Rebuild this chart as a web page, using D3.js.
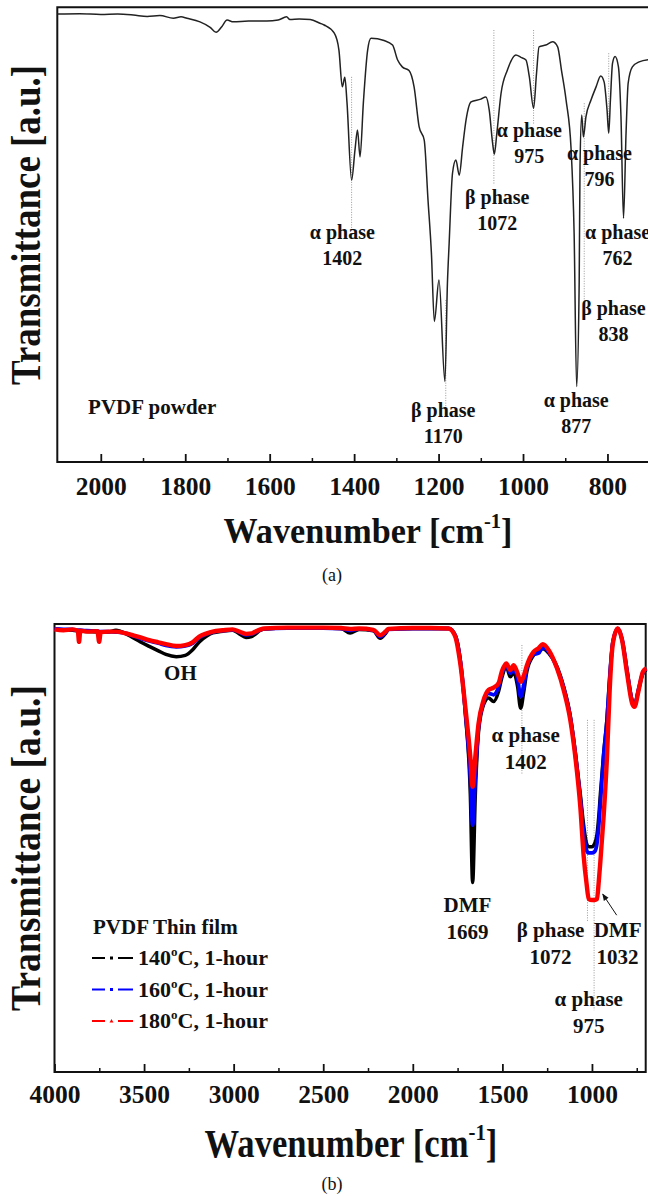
<!DOCTYPE html>
<html><head><meta charset="utf-8">
<script src="https://cdn.jsdelivr.net/npm/d3@7"></script>
<style>
body{margin:0;background:#fff;}
svg text{font-family:"Liberation Serif","Times New Roman",serif !important;fill:#111;}
</style>
</head><body>
<svg id="chart" width="648" height="1196" style="font-family:'Liberation Serif',serif"></svg>
<script>
// ---------- Panel (a): PVDF powder ----------
const powderWn = [2103,2050,2000,1960,1923,1890,1860,1828,1810,1796,1765,1741,1727,1713,1701,1686,1650,1607,1580,1560,1552,1530,1504,1481,1471,1447,1436,1428,1422,1417,1406,1398,1392,1386,1378,1368,1360,1329,1309,1297,1286,1270,1258,1246,1234,1225,1217,1210,1199,1185,1179,1175,1167,1159,1151,1143,1135,1123,1100,1088,1080,1072,1068,1062,1052,1037,1017,1005,993,985,975,968,962,946,930,918,909,898,886,879,873,867,865,861,857,851,839,827,816,808,801,797,793,788,782,774,768,762,756,751,741,725,703,660];
const powderT  = [98.5,98.6,98.4,98.5,98.3,98.0,98.2,97.6,97.9,97.6,96.8,95.6,94.5,95.8,97.2,96.8,97.0,97.0,97.2,97.9,97.3,97.4,97.3,96.5,96.1,94.3,90.6,82.5,84.6,79.2,62.0,68.6,73.0,67.1,79.2,90.6,93.2,92.7,91.7,88.4,86.9,86.1,82.5,73.7,70.8,57.6,46.0,30.9,40.0,17.7,39.4,48.0,63.5,66.4,63.1,69.3,75.2,79.2,79.8,80.3,77.4,70.1,67.7,72.3,81.1,86.2,89.5,89.0,88.4,84.7,77.8,85.5,91.3,91.7,92.4,91.3,86.2,79.6,68.6,50.4,16.6,39.4,65.0,76.3,71.5,75.9,79.6,82.5,84.9,83.6,77.4,72.3,79.6,87.7,89.2,86.9,75.9,53.6,72.3,83.3,86.9,88.0,88.5,88.7];
const ticksA = [2000,1800,1600,1400,1200,1000,800];
const minorA = [1900,1700,1500,1300,1100,900,700];
const annotA = [
  {l1:"α phase", l2:"1402", wn:1428, t:49.0},
  {l1:"β phase", l2:"1170", wn:1189, t:9.9},
  {l1:"β phase", l2:"1072", wn:1061, t:56.7},
  {l1:"α phase", l2:"975",  wn:985,  t:71.5},
  {l1:"α phase", l2:"877",  wn:874,  t:12.1},
  {l1:"α phase", l2:"796",  wn:819,  t:66.4},
  {l1:"β phase", l2:"838",  wn:786,  t:32.3},
  {l1:"α phase", l2:"762",  wn:776,  t:49.0}
];
const guidesA = [
  {wn:1406, t1:84.7, t2:50.6},
  {wn:1069, t1:95.0, t2:60.9},
  {wn:975,  t1:95.0, t2:74.1},
  {wn:797,  t1:89.9, t2:72.4},
  {wn:855,  t1:78.9, t2:31.9},
  {wn:1183, t1:35.6, t2:10.3}
];

// ---------- Panel (b): PVDF thin films ----------
const filmWn = [4000,3950,3900,3870,3863,3856,3820,3760,3751,3742,3700,3657,3600,3564,3520,3471,3420,3378,3320,3270,3230,3192,3150,3117,3060,3006,2968,2931,2900,2884,2850,2829,2700,2500,2400,2350,2300,2220,2182,2150,2136,2000,1900,1800,1763,1735,1707,1679,1666,1651,1633,1605,1577,1549,1521,1503,1478,1456,1437,1415,1398,1380,1363,1326,1298,1274,1242,1195,1158,1121,1093,1065,1046,1030,1018,1000,985,972,962,953,935,916,901,883,856,832,804,776,763,739,715,696];
const film140 = [98.8,98.7,98.6,98.5,98.5,98.5,98.3,98.2,98.3,98.2,98.2,98.6,97.8,97.0,96.0,95.0,94.0,93.2,92.7,93.0,94.2,96.0,97.3,98.0,98.4,98.6,97.8,97.0,97.2,97.6,98.6,98.9,99.1,99.1,99.0,98.0,98.8,98.5,96.8,98.0,98.8,99.0,99.0,99.0,97.5,92.0,80.0,62.0,42.3,62.0,76.0,82.0,83.5,82.7,85.0,88.0,90.5,88.2,89.2,86.0,81.2,85.0,89.5,93.0,93.8,94.5,93.5,90.5,86.0,79.5,71.5,62.0,55.0,51.0,50.3,50.3,51.0,53.0,57.0,62.0,71.0,79.0,88.0,96.0,98.9,96.5,89.5,83.0,82.0,85.5,89.0,89.8];
const film160 = [98.9,98.8,98.8,98.6,98.6,98.6,98.5,98.4,98.3,98.3,98.3,98.2,97.9,97.4,96.8,96.2,95.7,95.2,94.9,95.1,95.7,97.0,97.8,98.2,98.5,98.7,98.2,97.6,97.8,98.0,98.7,98.9,99.1,99.1,99.0,98.6,98.9,98.6,97.2,98.2,98.8,99.0,99.0,99.0,97.4,91.8,80.8,66.0,55.1,66.0,77.0,82.5,84.5,84.2,86.0,88.8,90.8,89.0,90.0,87.8,83.8,86.5,90.2,93.2,93.5,94.8,93.8,90.2,85.8,79.2,71.0,61.0,53.0,49.5,48.9,48.9,49.2,51.0,55.0,60.0,70.5,78.5,88.0,96.0,99.0,96.6,89.5,82.8,81.8,85.6,89.2,90.0];
const film180 = [98.8,98.6,98.8,98.5,96.0,98.5,98.3,98.4,96.0,98.2,98.3,98.3,97.9,97.5,97.0,96.4,95.9,95.5,95.1,95.3,95.9,97.2,97.9,98.3,98.6,98.8,98.3,97.8,97.9,98.2,98.8,99.0,99.2,99.2,99.1,98.9,99.0,98.7,97.5,98.4,98.9,99.1,99.1,99.0,97.2,91.2,81.5,70.4,63.7,70.4,77.8,83.0,85.3,85.8,86.8,89.4,91.2,89.7,90.8,89.0,87.1,88.5,90.8,93.8,94.6,95.5,94.2,90.1,85.3,78.6,70.4,59.2,48.1,42.0,38.6,38.4,38.4,38.6,42.5,47.0,57.0,70.4,85.3,95.7,99.0,96.4,89.0,82.3,81.5,85.3,89.4,90.1];
const seriesTemps = ["140","160","180"];
const seriesColors = ["#000000","#0000ff","#ff0000"];
const ticksB = [4000,3500,3000,2500,2000,1500,1000];
const minorB = [3750,3250,2750,2250,1750,1250,750];
const annotB = [
  {l1:"OH", l2:"", wn:3297, t:87.5},
  {l1:"α phase", l2:"1402", wn:1370, t:73.7},
  {l1:"DMF", l2:"1669", wn:1695, t:35.7},
  {l1:"β phase", l2:"1072", wn:1231, t:30.1},
  {l1:"DMF", l2:"1032", wn:857, t:30.1},
  {l1:"α phase", l2:"975", wn:1018, t:14.7}
];
const guidesB = [
  {wn:1391, t1:95.3, t2:66.3},
  {wn:1025, t1:78.6, t2:33.5},
  {wn:988,  t1:78.6, t2:13.8}
];
const arrowB = {fromWn:862, fromT:35.0, toWn:940, toT:39.7};

// ---------- Drawing ----------
const FONT = '"Liberation Serif","Times New Roman",serif';
const svg = d3.select("#chart");
const defs = svg.append("defs");
defs.append("marker").attr("id","ah").attr("viewBox","0 0 10 10").attr("refX",9).attr("refY",5)
  .attr("markerWidth",7).attr("markerHeight",7).attr("orient","auto")
  .append("path").attr("d","M0,1 L10,5 L0,9 Z").attr("fill","#111");

function stretchText(sel, target){
  const w = sel.node().getComputedTextLength();
  return target / w;
}

function panel(opts){
  const g = svg.append("g").style("font-family",FONT);
  const x = opts.x, y = opts.y;
  const [x0,x1] = x.range(); const [yb,yt] = y.range();
  const ax = g.append("g").attr("transform",`translate(0,${yb})`)
    .call(d3.axisBottom(x).tickValues(opts.ticks).tickSize(-8).tickFormat(d3.format("d")));
  ax.attr("font-family",null).style("font-family",FONT);
  ax.select(".domain").remove();
  ax.selectAll(".tick line").attr("stroke","#111").attr("stroke-width",1.8);
  ax.selectAll(".tick text").attr("y",opts.tickBaseline - yb).attr("dy",0)
    .attr("font-size",25.5).attr("font-weight","bold").attr("fill","#111")
    .style("font-family",FONT);
  const mx = g.append("g").attr("transform",`translate(0,${yb})`)
    .call(d3.axisBottom(x).tickValues(opts.minor).tickSize(-4).tickFormat(""));
  mx.select(".domain").remove();
  mx.selectAll(".tick line").attr("stroke","#111").attr("stroke-width",1.5);
  const fr = g.append("path").attr("fill","none").attr("stroke","#111").attr("stroke-width",2);
  if(opts.closed){
    fr.attr("d",`M${x0},${yt}H${x1}V${yb}H${x0}Z`);
  } else {
    fr.attr("d",`M${x1},${yt}H${x0}V${yb}H${x1}`);
  }
  const yt_ = g.append("text").attr("font-size",opts.yFont).attr("font-weight","bold")
    .attr("text-anchor","middle").text("Transmittance [a.u.]");
  const sy = stretchText(yt_, opts.yLen);
  yt_.attr("transform",`translate(${opts.yX},${opts.yCenter}) rotate(-90) scale(${sy},1)`);
  const xt = g.append("text").attr("font-size",opts.xFont).attr("font-weight","bold").attr("text-anchor","middle");
  xt.append("tspan").text("Wavenumber [cm");
  xt.append("tspan").attr("font-size",opts.xFont*0.6).attr("dy",-opts.supRaise).text("-1");
  xt.append("tspan").attr("dy",opts.supRaise).text("]");
  const sx = stretchText(xt, opts.xLen);
  xt.attr("transform",`translate(${opts.xCenter},${opts.xBaseline}) scale(${sx},1)`);
  g.append("text").attr("x",opts.capX).attr("y",opts.capY).attr("font-size",18)
    .attr("text-anchor","middle").text(opts.caption);
  return g;
}

// Panel (a)
const xa = d3.scaleLinear().domain([2103,650]).range([57.3,670.8]);
const ya = d3.scaleLinear().domain([0,100]).range([462,7.3]);
const ga = panel({x:xa,y:ya,ticks:ticksA,minor:minorA,closed:false,tickBaseline:495,
  yFont:42,yLen:320,yX:40,yCenter:225,xFont:36,xLen:289,xCenter:368,xBaseline:543,supRaise:15,
  capX:332,capY:581,caption:"(a)"});
ga.selectAll(".guide").data(guidesA).join("line")
  .attr("x1",d=>xa(d.wn)).attr("x2",d=>xa(d.wn)).attr("y1",d=>ya(d.t1)).attr("y2",d=>ya(d.t2))
  .attr("stroke","#999").attr("stroke-width",1).attr("stroke-dasharray","1,1.5");
const powder = powderWn.map((w,i)=>({wn:w,t:powderT[i]}));
ga.append("path").datum(powder).attr("fill","none").attr("stroke","#222").attr("stroke-width",1.5)
  .attr("stroke-linejoin","round")
  .attr("d",d3.line().x(d=>xa(d.wn)).y(d=>ya(d.t)).curve(d3.curveMonotoneX));
annotA.forEach(a=>{
  const t = ga.append("text").attr("font-size",20).attr("font-weight","bold").attr("text-anchor","middle");
  t.append("tspan").attr("x",xa(a.wn)).attr("y",ya(a.t)).text(a.l1);
  t.append("tspan").attr("x",xa(a.wn)).attr("y",ya(a.t)+26).text(a.l2);
});
ga.append("text").attr("x",xa(2030)).attr("y",ya(10.6)).attr("font-size",21).attr("font-weight","bold")
  .text("PVDF powder");

// Panel (b)
const xb = d3.scaleLinear().domain([4000,700]).range([54.5,645.7]);
const yb = d3.scaleLinear().domain([0,100]).range([1072,624]);
const gb = panel({x:xb,y:yb,ticks:ticksB,minor:minorB,closed:true,tickBaseline:1103,
  yFont:42,yLen:326,yX:40,yCenter:848,xFont:40,xLen:293,xCenter:351,xBaseline:1157,supRaise:17,
  capX:332,capY:1190,caption:"(b)"});
gb.selectAll(".guide").data(guidesB).join("line")
  .attr("x1",d=>xb(d.wn)).attr("x2",d=>xb(d.wn)).attr("y1",d=>yb(d.t1)).attr("y2",d=>yb(d.t2))
  .attr("stroke","#999").attr("stroke-width",1).attr("stroke-dasharray","1,1.5");
const filmSeries = [film140, film160, film180];
const widths = [3.5,3.8,4.4];
filmSeries.forEach((s,k)=>{
  const data = filmWn.map((w,i)=>({wn:w,t:s[i]}));
  gb.append("path").datum(data).attr("fill","none").attr("stroke",seriesColors[k])
    .attr("stroke-width",widths[k]).attr("stroke-linejoin","round")
    .attr("d",d3.line().x(d=>xb(d.wn)).y(d=>yb(d.t)).curve(d3.curveMonotoneX));
});
annotB.forEach(a=>{
  const t = gb.append("text").attr("font-size",21).attr("font-weight","bold").attr("text-anchor","middle");
  t.append("tspan").attr("x",xb(a.wn)).attr("y",yb(a.t)).text(a.l1);
  if(a.l2) t.append("tspan").attr("x",xb(a.wn)).attr("y",yb(a.t)+27).text(a.l2);
});
gb.append("line").attr("x1",xb(arrowB.fromWn)).attr("y1",yb(arrowB.fromT))
  .attr("x2",xb(arrowB.toWn)).attr("y2",yb(arrowB.toT))
  .attr("stroke","#111").attr("stroke-width",1).attr("marker-end","url(#ah)");
const lg = gb.append("g");
lg.append("text").attr("x",93).attr("y",934).attr("font-size",21).attr("font-weight","bold").text("PVDF Thin film");
seriesTemps.forEach((tp,k)=>{
  const yy = 965 + k*31.5;
  const cy = yy - 7;
  lg.append("line").attr("x1",92).attr("x2",105).attr("y1",cy).attr("y2",cy).attr("stroke",seriesColors[k]).attr("stroke-width",2);
  lg.append("line").attr("x1",118).attr("x2",133).attr("y1",cy).attr("y2",cy).attr("stroke",seriesColors[k]).attr("stroke-width",2);
  if(k<2){
    lg.append("rect").attr("x",110).attr("y",cy-1.5).attr("width",3).attr("height",3).attr("fill",seriesColors[k]);
  } else {
    lg.append("path").attr("d",`M109.5,${cy+1.5}L111.5,${cy-2}L113.5,${cy+1.5}Z`).attr("fill",seriesColors[k]);
  }
  const t = lg.append("text").attr("x",138).attr("y",yy).attr("font-size",22).attr("font-weight","bold");
  t.append("tspan").text(tp);
  t.append("tspan").attr("font-size",13).attr("dy",-9).text("o");
  t.append("tspan").attr("dy",9).text("C, 1-hour");
});
</script>
</body></html>
